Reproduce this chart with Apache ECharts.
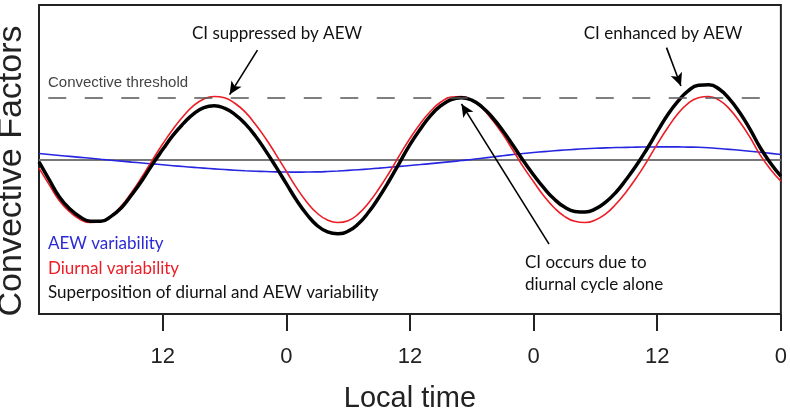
<!DOCTYPE html>
<html>
<head>
<meta charset="utf-8">
<script src="https://cdn.jsdelivr.net/npm/echarts@6/dist/echarts.min.js"></script>
<style>
  html, body { margin: 0; background: #fff; }
  #chart { width: 790px; height: 418px; }
</style>
</head>
<body>
<div id="chart"></div>
<script>
// hours since the left edge of the plot
const hours = [0, 1, 2, 3, 4, 5, 6, 7, 8, 9, 10, 11, 12, 13, 14, 15, 16, 17, 18, 19, 20, 21, 22, 23,
  24, 25, 26, 27, 28, 29, 30, 31, 32, 33, 34, 35, 36, 37, 38, 39, 40, 41, 42, 43, 44, 45, 46, 47,
  48, 49, 50, 51, 52, 53, 54, 55, 56, 57, 58, 59, 60, 61, 62, 63, 64, 65, 66, 67, 68, 69, 70, 71, 72];

// blue: slow AEW wave
const aewValues = [0.097, 0.081, 0.065, 0.050, 0.035, 0.019, 0.003, -0.012, -0.027, -0.042, -0.056, -0.071,
  -0.085, -0.100, -0.114, -0.127, -0.140, -0.152, -0.163, -0.173, -0.182, -0.189, -0.195, -0.200,
  -0.203, -0.204, -0.203, -0.200, -0.194, -0.186, -0.176, -0.165, -0.153, -0.140, -0.126, -0.112,
  -0.097, -0.082, -0.066, -0.050, -0.034, -0.017, 0.000, 0.020, 0.040, 0.060, 0.080, 0.098,
  0.114, 0.128, 0.141, 0.153, 0.164, 0.173, 0.181, 0.188, 0.193, 0.197, 0.200, 0.202,
  0.204, 0.205, 0.204, 0.201, 0.197, 0.189, 0.177, 0.164, 0.150, 0.134, 0.117, 0.099, 0.081];

// red: diurnal cycle
const diurnalValues = [-0.14, -0.41, -0.67, -0.85, -0.97, -1.02, -1.00, -0.91, -0.75, -0.53, -0.28, -0.01,
  0.25, 0.49, 0.70, 0.87, 0.98, 1.02, 1.00, 0.91, 0.77, 0.57, 0.34, 0.08,
  -0.19, -0.46, -0.69, -0.87, -0.98, -1.02, -0.99, -0.88, -0.70, -0.47, -0.21, 0.07,
  0.34, 0.58, 0.78, 0.93, 1.01, 1.02, 0.96, 0.83, 0.64, 0.41, 0.15, -0.12,
  -0.36, -0.59, -0.78, -0.92, -1.00, -1.02, -0.98, -0.88, -0.72, -0.52, -0.29, -0.03,
  0.25, 0.51, 0.74, 0.91, 1.00, 1.02, 0.96, 0.82, 0.61, 0.36, 0.07, -0.16, -0.35];

// black: both together
const superpositionValues = [-0.04, -0.33, -0.61, -0.80, -0.93, -1.00, -1.00, -0.92, -0.78, -0.57, -0.34, -0.08,
  0.16, 0.39, 0.58, 0.74, 0.84, 0.87, 0.83, 0.73, 0.58, 0.38, 0.14, -0.12,
  -0.39, -0.66, -0.89, -1.07, -1.17, -1.20, -1.16, -1.04, -0.85, -0.61, -0.34, -0.05,
  0.24, 0.49, 0.71, 0.87, 0.97, 1.00, 0.96, 0.85, 0.68, 0.47, 0.23, -0.02,
  -0.25, -0.46, -0.64, -0.77, -0.84, -0.85, -0.80, -0.69, -0.53, -0.32, -0.09, 0.17,
  0.45, 0.72, 0.94, 1.11, 1.20, 1.21, 1.14, 0.98, 0.76, 0.49, 0.19, -0.06, -0.27];

const tickHours = [12, 24, 36, 48, 60, 72];
const tickLabels = ['12', '0', '12', '0', '12', '0'];
const threshold = 1.0;

const pairs = vals => hours.map((h, i) => [h, vals[i]]);

const myChart = echarts.init(document.getElementById('chart'));

const arrow = (from, to) => [
  { coord: from, symbol: 'none' },
  { coord: to, symbol: 'arrow' }
];

const note = (text, x, y, color, align) => ({
  type: 'text',
  x: x,
  y: y,
  z: 10,
  style: {
    text: text,
    fontFamily: 'Lato',
    fontSize: 17,
    fill: color,
    align: align || 'left',
    verticalAlign: 'middle'
  }
});

myChart.setOption({
  animation: false,
  grid: {
    left: 39, right: 8, top: 5, bottom: 103,
    show: true, borderColor: '#222', borderWidth: 2
  },
  xAxis: {
    type: 'value',
    min: 0,
    max: 72,
    interval: 12,
    name: 'Local time',
    nameLocation: 'middle',
    nameGap: 70,
    nameTextStyle: { fontFamily: 'Liberation Sans', fontSize: 29, color: '#222' },
    axisLine: { show: false, onZero: false },
    splitLine: { show: false },
    axisTick: {
      show: true, length: 17, customValues: tickHours,
      lineStyle: { color: '#222', width: 2 }
    },
    axisLabel: {
      customValues: tickHours,
      margin: 32,
      fontFamily: 'Liberation Sans', fontSize: 22, color: '#222',
      formatter: v => tickLabels[tickHours.indexOf(v)] || ''
    }
  },
  yAxis: {
    type: 'value',
    min: -2.5,
    max: 2.5,
    axisLine: { show: false },
    axisTick: { show: false },
    axisLabel: { show: false },
    splitLine: { show: false }
  },
  series: [
    {
      name: 'AEW variability',
      type: 'line',
      data: pairs(aewValues),
      smooth: true,
      symbol: 'none',
      lineStyle: { color: '#2626e0', width: 1.6 },
      markLine: {
        silent: true,
        symbol: 'none',
        label: { show: false },
        lineStyle: { color: '#777', width: 2, type: 'solid' },
        data: [{ yAxis: 0 }],
        z: 1
      }
    },
    {
      name: 'Diurnal variability',
      type: 'line',
      data: pairs(diurnalValues),
      smooth: true,
      symbol: 'none',
      lineStyle: { color: '#ee1c24', width: 1.6 },
      markLine: {
        silent: true,
        symbol: 'none',
        label: { show: false },
        lineStyle: { color: '#555', width: 1.5, type: [18, 18.5] },
        data: [[{ coord: [0.9, threshold] }, { coord: [70.3, threshold] }]]
      }
    },
    {
      name: 'Superposition',
      type: 'line',
      data: pairs(superpositionValues),
      smooth: true,
      symbol: 'none',
      lineStyle: { color: '#000', width: 3.5 },
      markLine: {
        silent: true,
        symbolSize: [9, 13],
        label: { show: false },
        lineStyle: { color: '#000', width: 1.6, type: 'solid' },
        data: [
          arrow([21.2, 1.77], [18.5, 1.05]),
          arrow([60.9, 1.81], [62.3, 1.19]),
          arrow([49.5, -1.37], [41.0, 0.90])
        ]
      }
    }
  ],
  graphic: [
    {
      type: 'text', x: 12, y: 171, rotation: Math.PI / 2,
      style: {
        text: 'Convective Factors', fontFamily: 'Liberation Sans', fontSize: 34,
        fill: '#222', align: 'center', verticalAlign: 'middle'
      }
    },
    {
      type: 'text', x: 48, y: 83,
      style: {
        text: 'Convective threshold', fontFamily: 'Liberation Sans', fontSize: 15,
        fill: '#444', align: 'left', verticalAlign: 'middle'
      }
    },
    note('CI suppressed by AEW', 277, 34, '#111', 'center'),
    note('CI enhanced by AEW', 663, 34, '#111', 'center'),
    note('CI occurs due to', 525, 263, '#111'),
    note('diurnal cycle alone', 525, 285, '#111'),
    note('AEW variability', 48, 244, '#2a2ad8'),
    note('Diurnal variability', 48, 269, '#ee1c24'),
    note('Superposition of diurnal and AEW variability', 48, 293, '#111')
  ]
});
</script>
</body>
</html>
